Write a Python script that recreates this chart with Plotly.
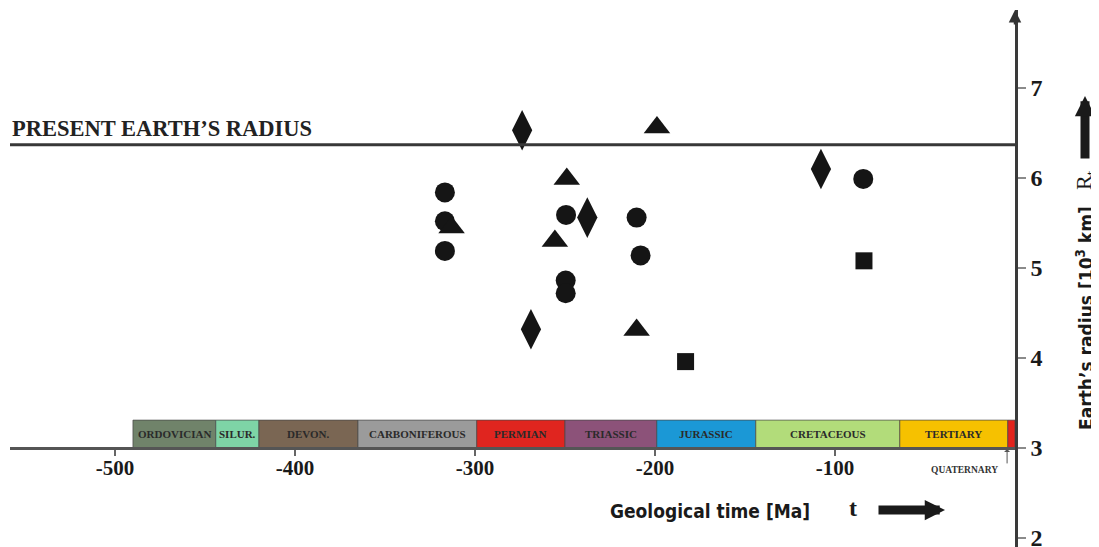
import plotly.graph_objects as go

# ---------------- data ----------------
circle_t = [-316.7, -316.7, -316.7, -249.4, -249.6, -249.6, -210.2, -208.0, -84.3]
circle_r = [5.84, 5.52, 5.19, 5.59, 4.86, 4.72, 5.56, 5.14, 5.99]

triangle_t = [-198.9, -249.0, -313.0, -255.6, -210.2]
triangle_r = [6.56, 5.99, 5.45, 5.30, 4.31]

diamond_t = [-273.8, -237.6, -268.9, -107.8]
diamond_r = [6.53, 5.56, 4.32, 6.10]

square_t = [-183.0, -83.9]
square_r = [3.96, 5.08]

present_radius = 6.37

period_names = ["ORDOVICIAN", "SILUR.", "DEVON.", "CARBONIFEROUS", "PERMIAN",
                "TRIASSIC", "JURASSIC", "CRETACEOUS", "TERTIARY", ""]
period_start = [-490, -444, -420, -365, -299, -250, -199, -144, -64, -4]
period_end = [-444, -420, -365, -299, -250, -199, -144, -64, -4, 0]
period_colors = ["#70836a", "#7ed4a6", "#7a6653", "#9b9b9b", "#e0251f",
                 "#8c5279", "#1b98d6", "#b2dc7a", "#f6c100", "#e2231c"]

x_ticks = [-500, -400, -300, -200, -100]
x_ticklabels = ["-500", "-400", "-300", "-200", "-100"]
y_ticks = [2, 3, 4, 5, 6, 7]

# ---------------- figure ----------------
# the page body has an 8px margin; positions below are expressed in page pixels
X_RANGE = [-558.3, 0]
Y_RANGE = [1.9, 7.867]
PLOT_TOP, PLOT_BOTTOM = 10.0, 547.0


def px_x(px):
    return (px - 10.0) / 1005.0


def px_y(py):
    return (PLOT_BOTTOM - py) / (PLOT_BOTTOM - PLOT_TOP)


fig = go.Figure()
mk = "#151515"
fig.add_trace(go.Scatter(x=circle_t, y=circle_r, mode="markers",
                         marker=dict(symbol="circle", size=20, color=mk), showlegend=False))
fig.add_trace(go.Scatter(x=triangle_t, y=triangle_r, mode="markers",
                         marker=dict(symbol="triangle-up", size=23, color=mk), showlegend=False))
fig.add_trace(go.Scatter(x=diamond_t, y=diamond_r, mode="markers",
                         marker=dict(symbol="diamond-tall", size=29, color=mk), showlegend=False))
fig.add_trace(go.Scatter(x=square_t, y=square_r, mode="markers",
                         marker=dict(symbol="square", size=17, color=mk), showlegend=False))

shapes = []
annotations = []

# geological period bar
for name, s, e, c in zip(period_names, period_start, period_end, period_colors):
    shapes.append(dict(type="rect", xref="x", yref="y", x0=s, x1=e, y0=3.0, y1=3.31,
                       fillcolor=c, line=dict(color="rgba(70,70,70,0.7)", width=1), layer="below"))
    if name:
        annotations.append(dict(x=(s + e) / 2, y=3.155, xref="x", yref="y", text=name,
                                showarrow=False, xanchor="center", yanchor="middle",
                                font=dict(family="Liberation Serif", size=11, color="#2a2a2a",
                                          weight="bold")))

# present radius line
shapes.append(dict(type="line", xref="x", yref="y", x0=X_RANGE[0], x1=0, y0=present_radius,
                   y1=present_radius, line=dict(color="#383838", width=3)))
annotations.append(dict(x=X_RANGE[0], y=6.545, xref="x", yref="y", xanchor="left",
                        yanchor="middle",
                        text="PRESENT EARTH\u2019S RADIUS", showarrow=False,
                        font=dict(family="Liberation Serif", size=22.5, color="#222222",
                                  weight="bold")))

# quaternary label with arrow
annotations.append(dict(x=-27.8, y=2.755, xref="x", yref="y", text="QUATERNARY",
                        showarrow=False, xanchor="center", yanchor="middle",
                        font=dict(family="Liberation Serif", size=9.5, color="#333333",
                                  weight="bold")))
annotations.append(dict(x=-4.4, y=2.99, xref="x", yref="y", text="", showarrow=True,
                        ax=0, ay=16, arrowhead=1, arrowwidth=1, arrowsize=1,
                        arrowcolor="#555555"))

# y-axis arrow at top
annotations.append(dict(x=1.0, y=1.0, xref="paper", yref="paper", text="", showarrow=True,
                        ax=0, ay=16, arrowhead=2, arrowwidth=2.5, arrowsize=1,
                        arrowcolor="#333333"))

# bottom axis title with arrow
annotations.append(dict(x=px_x(710), y=px_y(511), xref="paper", yref="paper",
                        xanchor="center", yanchor="middle",
                        text="Geological time [Ma]", showarrow=False,
                        font=dict(family="DejaVu Sans Condensed", size=19, color="#1a1a1a",
                                  weight="bold")))
annotations.append(dict(x=px_x(853), y=px_y(508), xref="paper", yref="paper",
                        xanchor="center", yanchor="middle",
                        text="t", showarrow=False,
                        font=dict(family="Liberation Serif", size=24, color="#1a1a1a",
                                  weight="bold")))
annotations.append(dict(x=px_x(945), y=px_y(510), xref="paper", yref="paper", text="",
                        showarrow=True, ax=-68, ay=0, arrowhead=2, arrowwidth=9,
                        arrowsize=0.45, arrowcolor="#1a1a1a"))

# right axis title with arrow
annotations.append(dict(x=px_x(1085), y=px_y(318), xref="paper", yref="paper",
                        xanchor="center", yanchor="middle",
                        text="Earth\u2019s radius [10<sup>3</sup> km]", textangle=-90,
                        showarrow=False,
                        font=dict(family="DejaVu Sans Condensed", size=19, color="#1a1a1a",
                                  weight="bold")))
annotations.append(dict(x=px_x(1085), y=px_y(180), xref="paper", yref="paper",
                        xanchor="center", yanchor="middle",
                        text="R<sub>t</sub>", textangle=-90, showarrow=False,
                        font=dict(family="Liberation Serif", size=22, color="#1a1a1a")))
annotations.append(dict(x=px_x(1085), y=px_y(96), xref="paper", yref="paper", text="",
                        showarrow=True, ax=0, ay=64, arrowhead=2, arrowwidth=9,
                        arrowsize=0.45, arrowcolor="#1a1a1a"))

fig.update_layout(
    width=1091, height=539,
    margin=dict(l=2, r=84, t=2, b=0, autoexpand=False),
    paper_bgcolor="white", plot_bgcolor="white",
    shapes=shapes, annotations=annotations,
    xaxis=dict(range=X_RANGE, anchor="free", position=(3 - Y_RANGE[0]) / (Y_RANGE[1] - Y_RANGE[0]),
               showgrid=False, zeroline=False, showline=True, linecolor="#555555", linewidth=3,
               ticks="outside", ticklen=6, tickwidth=1.5, tickcolor="#666666",
               tickvals=x_ticks, ticktext=x_ticklabels, ticklabelstandoff=-6,
               tickfont=dict(family="Liberation Serif", size=21, color="#1a1a1a", weight="bold")),
    yaxis=dict(range=Y_RANGE, side="right", anchor="x", showgrid=False, zeroline=False,
               showline=True, linecolor="#3a3a3a", linewidth=2.5,
               ticks="outside", ticklen=8, tickwidth=1.5, tickcolor="#8a8a8a",
               tickvals=y_ticks, ticklabeloverflow="allow",
               tickfont=dict(family="Liberation Serif", size=24, color="#1a1a1a", weight="bold")),
)

fig.write_html("out.html")
